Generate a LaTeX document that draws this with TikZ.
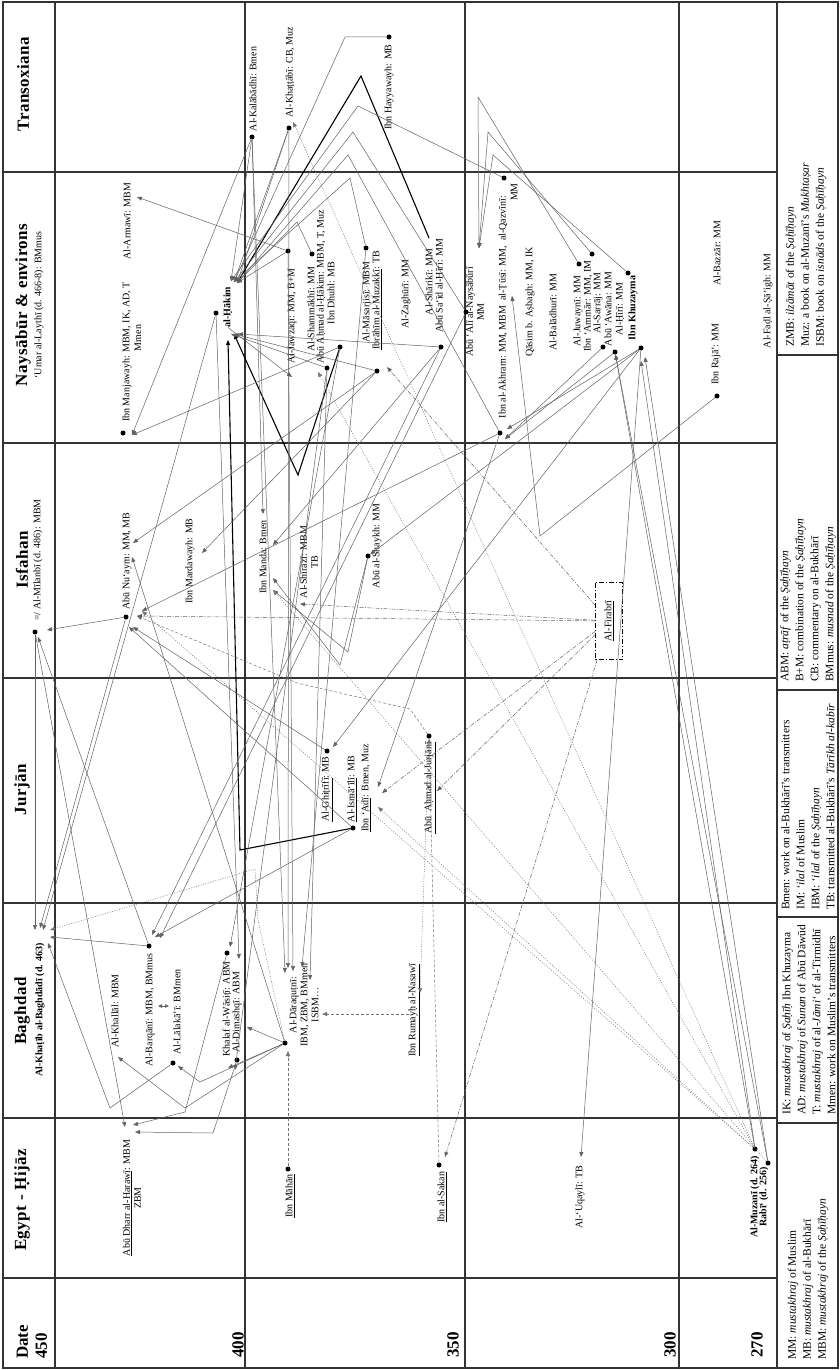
\documentclass[tikz,border=0pt]{standalone}
\usepackage{fontspec}
\setmainfont{Liberation Serif}
\usetikzlibrary{arrows.meta}
\tikzset{
  hdr/.style={rotate=90, font=\fontsize{17}{19}\selectfont\bfseries, inner sep=0pt},
  rhdr/.style={rotate=90, font=\fontsize{17}{19}\selectfont\bfseries\addfontfeature{LetterSpace=2.5}, inner sep=0pt},
  lab/.style={rotate=90, font=\fontsize{10}{11}\selectfont, inner sep=0pt, align=center},
  blab/.style={rotate=90, font=\fontsize{10}{11}\selectfont\bfseries, inner sep=0pt, align=center},
  leg/.style={rotate=90, font=\fontsize{11.5}{15}\selectfont, inner sep=0pt, align=left, anchor=west},
  dotn/.style={circle, fill=black, inner sep=0pt, minimum size=5pt},
  gridln/.style={line width=1.1pt, black!80},
  ln/.style={black!62, line width=0.5pt},
  tk/.style={black, line width=1.1pt},
  dsh/.style={black!55, line width=0.5pt, dash pattern=on 3pt off 2pt},
  dtd/.style={black!55, line width=0.5pt, dash pattern=on 1pt off 1.5pt},
  dd/.style={black!62, line width=0.5pt, dash pattern=on 4pt off 1.5pt on 1pt off 1.5pt},
  arr/.style={-{Triangle[length=5pt,width=4pt]}},
}
\begin{document}
\begin{tikzpicture}[x=1pt,y=-1pt]
\useasboundingbox (0,0) rectangle (840,1370);
% ---------------- grid
\draw[gridln] (3,2) rectangle (777,1368);
\foreach \xx in {55,245,465,679} \draw[gridln] (\xx,2) -- (\xx,1368);
\foreach \yy in {172,443,678,903,1118,1278} \draw[gridln] (3,\yy) -- (777,\yy);
\draw[gridln] (777,2) rectangle (838,1368);
\foreach \yy in {355,690,917,1123} \draw[gridln] (777,\yy) -- (838,\yy);
% ---------------- headers
\node[rhdr] (hTrans) at (23,84) {Transoxiana};
\node[rhdr] (hNays) at (23,305) {Naysābūr \& environs};
\node[lab] (hNaysSub) at (39,305) {‘Umar al-Laythī (d. 466-8): BMmus};
\node[rhdr] (hIsf) at (22,560) {Isfahan};
\node[rhdr] (hJur) at (22,790) {Jurjān};
\node[rhdr] (hBag) at (22,1011) {Baghdad};
\node[blab] (lKhatib) at (40,1010) {Al-Khaṭīb al-Baghdādī (d. 463)};
\node[rhdr] (hEgy) at (22,1200) {Egypt - Ḥijāz};
\node[hdr, align=left, anchor=west] (hDate) at (32,1359) {Date\\450};
\node[hdr] (d400) at (238,1345) {400};
\node[hdr] (d350) at (453,1345) {350};
\node[hdr] (d300) at (670,1345) {300};
\node[hdr] (d270) at (757,1345) {270};
% ---------------- legend
\node[leg] (legA) at (806,347) {ZMB: \textit{ilzāmāt} of the \textit{Ṣaḥīḥayn}\\Muz: a book on al-Muzanī’s \textit{Mukhtaṣar}\\ISBM: book on \textit{isnād}s of the \textit{Ṣaḥīḥayn}};
\node[leg] (legB) at (808,682) {ABM: \textit{aṭrāf} of the \textit{Ṣaḥīḥayn}\\B+M: combination of the \textit{Ṣaḥīḥayn}\\CB: commentary on al-Bukhārī\\BMmus: \textit{musnad} of the \textit{Ṣaḥīḥayn}};
\node[leg] (legC) at (808,910) {Bmen: work on al-Bukhārī’s transmitters\\IM: \textit{‘ilal} of Muslim\\IBM: \textit{‘ilal} of the \textit{Ṣaḥīḥayn}\\TB: transmitted al-Bukhārī’s \textit{Tārīkh al-kabīr}};
\node[leg] (legD) at (809,1115) {IK: \textit{mustakhraj} of \textit{Ṣaḥīḥ} Ibn Khuzayma\\AD: \textit{mustakhraj} of \textit{Sunan} of Abū Dāwūd\\T: \textit{mustakhraj} of al-\textit{Jāmi‘} of al-Tirmidhī\\Mmen: work on Muslim’s transmitters};
\node[leg] (legE) at (808,1360) {MM: \textit{mustakhraj} of Muslim\\MB: \textit{mustakhraj} of al-Bukhārī\\MBM: \textit{mustakhraj} of the \textit{Ṣaḥīḥayn}};
% ---------------- dots
\node[dotn] (kal) at (252,137) {};
\node[dotn] (kha) at (289,128) {};
\node[dotn] (hay) at (389,37) {};
\node[dotn] (jaw) at (288,251) {};
\node[dotn] (sham) at (312,254) {};
\node[dotn] (aah) at (327,368) {};
\node[dotn] (dhuhl) at (340,347) {};
\node[dotn] (mas) at (366,248) {};
\node[dotn] (muzak) at (377,371) {};
\node[dotn] (hiri1) at (441,347) {};
\node[dotn] (abuali) at (466,312) {};
\node[dotn] (akh) at (500,433) {};
\node[dotn] (qaz) at (504,178) {};
\node[dotn] (juw) at (579,264) {};
\node[dotn] (ammar) at (592,254) {};
\node[dotn] (sarraj) at (603,347) {};
\node[dotn] (awana) at (615,352) {};
\node[dotn] (hiri2) at (628,273) {};
\node[dotn] (khuz) at (641,348) {};
\node[dotn] (raja) at (717,396) {};
\node[dotn] (manj) at (123,433) {};
\node[dotn] (hakim) at (216,313) {};
\node[dotn] (milanbi) at (35,632) {};
\node[dotn] (nuaym) at (126,617) {};
\node[dotn] (shaykh) at (368,556) {};
\node[dotn] (ghit) at (327,751) {};
\node[dotn] (ismaili) at (353,828) {};
\node[dotn] (jurjani) at (429,736) {};
\node[dotn] (dar) at (285,1043) {};
\node[dotn] (barq) at (149,946) {};
\node[dotn] (lalak) at (173,1063) {};
\node[dotn] (wasiti) at (227,953) {};
\node[dotn] (dimashqi) at (237,1060) {};
\node[dotn] (mahan) at (288,1169) {};
\node[dotn] (sakan) at (439,1165) {};
\node[dotn] (muzani) at (755,1149) {};
\node[dotn] (rabi) at (768,1163) {};
% ---------------- labels
\node[lab] (lKal) at (253,89) {Al-Kalābādhī: Bmen};
\node[lab] (lKha) at (290,72) {Al-Khaṭṭābī: CB, Muz};
\node[lab] (lHay) at (389,87) {Ibn Hayyawayh: MB};
\node[lab] (lManj) at (127,352) {Ibn Manjawayh: MBM, IK, AD, T};
\node[lab] (lArm) at (127,221) {Al-Armawī: MBM};
\node[lab] (lMmen) at (138,338) {Mmen};
\node[blab] (lHakim) at (228,307) {al-Ḥākim};
\node[lab] (lJaw) at (292,316) {Al-Jawzaqī: MM, B+M};
\node[lab] (lSham) at (311,309) {Al-Shammākhī: MM};
\node[lab] (lAah) at (321,287) {Abū Aḥmad al-Ḥākim: MBM, T, Muz};
\node[lab] (lDhuhl) at (331,293) {Ibn Dhuhl: MB};
\node[lab] (lMas) at (367,302) {Al-Māsarjisī: MBM};
\node[lab] (lMuzak) at (377,300) {\underline{Ibrāhīm al-Muzakkī}: TB};
\node[lab] (lZag) at (406,294) {Al-Zaghūrī: MM};
\node[lab] (lShar) at (429,282) {Al-Shārikī: MM};
\node[lab] (lHiri1) at (440,286) {Abū Sa‘īd al-Ḥīrī: MM};
\node[lab] (lAbuali) at (475,312) {Abū ‘Alī al-Naysābūrī\\MM};
\node[lab] (lAkh) at (503,307) {Ibn al-Akhram: MM, MBM\ \ al-Ṭūsī: MM,\ \ al-Qazvīnī:};
\node[lab] (lQazMM) at (514,192) {MM};
\node[lab] (lQasim) at (530,302) {Qāsim b. Aṣbagh: MM, IK};
\node[lab] (lBal) at (553,312) {Al-Balādhurī: MM};
\node[lab] (lJuw) at (578,311) {Al-Juwaynī: MM};
\node[lab] (lAmmar) at (588,306) {Ibn ‘Ammār: MM, IM};
\node[lab] (lSarraj) at (598,303) {Al-Sarrāj: MM};
\node[lab] (lAwana) at (608,309) {Abū ‘Awāna: MM};
\node[lab] (lHiri2) at (620,309) {Al-Ḥīrī: MM};
\node[blab] (lKhuz) at (633,308) {Ibn Khuzayma};
\node[lab] (lRaja) at (716,354) {Ibn Rajā’: MM};
\node[lab] (lBazzar) at (717,253) {Al-Bazzār: MM};
\node[lab] (lFadl) at (768,301) {Al-Faḍl al-Ṣā’igh: MM};
\node[lab] (lMil) at (38,560) {=/ Al-Mīlanbī (d. 486): MBM};
\node[lab] (lNuaym) at (127,561) {Abū Nu‘aym: MM, MB};
\node[lab] (lMard) at (190,561) {Ibn Mardawayh: MB};
\node[lab] (lManda) at (263,557) {Ibn Manda: Bmen};
\node[lab] (lShir) at (309,562) {Al-Shīrāzī: MBM\\TB};
\node[lab] (lShaykh) at (377,546) {Abū al-Shaykh: MM};
\node[lab] (lGhit) at (327,789) {\underline{Al-Ghiṭrīfī}: MB};
\node[lab] (lIsm) at (352,789) {\underline{Al-Ismā‘īlī}: MB};
\node[lab] (lAdi) at (366,788) {\underline{Ibn ‘Adī}: Bmen, Muz};
\node[lab] (lJurj) at (430,788) {\underline{Abū\ \ Aḥmad al-Jurjānī}};
\node[lab, draw=black, line width=0.7pt, dash pattern=on 5pt off 2pt on 1pt off 2pt, minimum width=77pt, minimum height=27pt] (firabri) at (609,621) {\underline{Al-Firabrī}};
\node[lab] (lKhallal) at (115,1011) {Al-Khallāl: MBM};
\node[lab] (lBarq) at (150,1010) {Al-Barqānī: MBM, BMmus};
\node[lab] (lLalak) at (177,1012) {Al-Lālakā’ī: BMmen};
\node[lab] (lWas) at (227,1009) {Khalaf al-Wāsiṭī: ABM};
\node[lab] (lDim) at (237,1012) {Al-Dimashqī: ABM};
\node[lab] (lDar) at (304,1005) {Al-Dāraquṭnī:\\IBM, ZBM, BMmen\\ISBM…};
\node[lab] (lRum) at (414,1010) {\underline{Ibn Rumayḥ al-Nasawī}};
\node[lab] (lDharr) at (132,1198) {\underline{Abū Dharr al-Harawī}: MBM\\ZBM};
\node[lab] (lMahan) at (290,1196) {\underline{Ibn Māhān}};
\node[lab] (lSakan) at (442,1197) {\underline{Ibn al-Sakan}};
\node[lab] (lUqayli) at (580,1197) {Al-‘Uqaylī: TB};
\node[blab] (lMuzani) at (755,1197) {Al-Muzanī (d. 264)};
\node[blab] (lRabi) at (764,1197) {Rabī‘ (d. 256)};
% ---------------- arrow targets
\coordinate (hakimT1) at (231,281); \coordinate (hakimT2) at (234,282); \coordinate (hakimT3) at (237,283);
\coordinate (hakimB1) at (228,340); \coordinate (hakimB2) at (231,334); \coordinate (hakimB3) at (234,334); \coordinate (hakimB4) at (238,334);
\coordinate (sharE) at (429,238); \coordinate (armA) at (137,197); \coordinate (jawS) at (292,377);
\coordinate (abualiA) at (479,248); \coordinate (akhA1) at (507,429); \coordinate (akhA2) at (505,439);
\coordinate (khuzA1) at (641,361); \coordinate (khuzA2) at (645,357); \coordinate (uqayliA) at (581,1157);
\coordinate (tusiA) at (512,296); \coordinate (milA1) at (47,630); \coordinate (milA2) at (38,637);
\coordinate (khatA1) at (35,930); \coordinate (khatA2) at (40,928); \coordinate (khatA3) at (43,930);
\coordinate (khatA4) at (50,930); \coordinate (khatA5) at (50,937); \coordinate (khatA6) at (48,943);
\coordinate (khallalA) at (118,1057); \coordinate (dimA) at (247,1027); \coordinate (wasA1) at (228,1068);
\coordinate (wasA2) at (235,1070); \coordinate (wasT) at (230,947); \coordinate (dimT) at (239,959);
\coordinate (lalA) at (178,1066); \coordinate (barqA1) at (152,935); \coordinate (barqA2) at (155,937);
\coordinate (barqA3) at (160,938); \coordinate (darA1) at (285,973); \coordinate (darA2) at (288,968);
\coordinate (darA3) at (293,971); \coordinate (darA4) at (302,967); \coordinate (darA5) at (310,980);
\coordinate (darISBM) at (322,1014); \coordinate (darB) at (288,1051); \coordinate (dharrA1) at (125,1127);
\coordinate (dharrA2) at (133,1125); \coordinate (dharrA3) at (135,1132); \coordinate (sakanA) at (445,1157);
\coordinate (jurjA) at (437,791); \coordinate (adiA1) at (378,787); \coordinate (adiA2) at (382,793);
\coordinate (adiA3) at (378,807); \coordinate (rumA) at (420,993); \coordinate (rumL) at (409,1014);
\coordinate (khaA) at (293,122); \coordinate (nuaymA1) at (133,543); \coordinate (nuaymA2) at (132,557);
\coordinate (nuaymA3) at (142,611); \coordinate (nuaymA4) at (137,616); \coordinate (nuaymA5) at (129,627);
\coordinate (nuaymA6) at (133,627); \coordinate (mardA) at (202,553); \coordinate (mandaT) at (263,514);
\coordinate (mandaA2) at (273,545); \coordinate (mandaA3) at (273,578); \coordinate (mandaA4) at (273,590);
\coordinate (ghitA) at (333,747); \coordinate (manjA) at (132,435); \coordinate (muzakA) at (387,367);
\coordinate (aahS) at (318,372); \coordinate (shirA) at (300,604);
% ---------------- thick connectors
\draw[tk,arr] (sharE) -- (361,76) -- (hakimT3);
\draw[tk,arr] (ismaili) -- (240,850) -- (hakimB1);
\draw[tk,arr] (dhuhl) -- (298,475) -- (hakimB3);
% ---------------- thin connectors (Naysabur)
\draw[ln,arr] (hay) -- (345,37) -- (hakimT2);
\draw[ln,arr] (kal) -- (hakimT1);
\draw[ln,arr] (kha) -- (hakimT2);
\draw[ln,arr] (kha) -- (hakimT3);
\draw[ln,arr] (jaw) -- (hakimT3);
\draw[ln,arr] (jaw) -- (armA);
\draw[ln,arr] (sham) -- (297,222) -- (hakimT3);
\draw[ln,arr] (mas) -- (350,178) -- (hakimT2);
\draw[ln,arr] (qaz) -- (358,106) -- (hakimT1);
\draw[ln,arr] (abuali) -- (353,132) -- (hakimT2);
\draw[ln,arr] (akh) -- (348,155) -- (hakimT3);
\draw[ln,arr] (juw) -- (478,97) -- (abualiA);
\draw[ln,arr] (ammar) -- (488,132) -- (abualiA);
\draw[ln,arr] (hiri2) -- (493,155) -- (abualiA);
\draw[ln,arr] (aah) -- (hakimB2);
\draw[ln,arr] (muzak) -- (hakimB3);
\draw[ln,arr] (hiri1) -- (hakimB4);
\draw[ln,arr] (lHakim.west) -- (jawS);
\draw[ln,arr] (kal) -- (manjA);
% ---------------- long lines to Isfahan / Baghdad
\draw[ln,arr] (kal) -- (darA1);
\draw[ln,arr] (kal) -- (mandaT);
\draw[ln,arr] (kha) -- (darA2);
\draw[ln,arr] (jaw) -- (darA3);
\draw[ln,arr] (mas) -- (darA4);
\draw[ln,arr] (aah) -- (darA5);
\draw[ln,arr] (dhuhl) -- (wasT);
\draw[ln,arr] (hakim) -- (dimT);
\draw[ln,arr] (hakim) -- (khatA3);
\draw[ln,arr] (milanbi) -- (khatA1);
\draw[ln,arr] (nuaym) -- (khatA2);
\draw[ln,arr] (nuaym) -- (milA1);
\draw[ln,arr] (barq) -- (milA2);
\draw[ln,arr] (barq) -- (khatA5);
\draw[ln,arr] (lalak) -- (110,1108) -- (khatA6);
\draw[ln,arr] (dar) -- (185,1108) -- (khallalA);
\draw[ln,arr] (dar) -- (dimA);
\draw[ln,arr] (dar) -- (wasA1);
\draw[ln,arr] (dar) -- (200,1082) -- (lalA);
\draw[ln,arr] (dimashqi) -- (213,1133) -- (dharrA3);
\draw[ln,arr] (wasiti) -- (185,1112) -- (dharrA2);
\draw[ln,arr] (milanbi) -- (dharrA1);
\draw[ln,arr] (muzak) -- (nuaymA1);
\draw[ln,arr] (muzak) -- (mardA);
\draw[ln,arr] (hiri1) -- (mandaA2);
\draw[ln,arr] (akh) -- (nuaymA3);
\draw[ln,arr] (akh) -- (adiA1);
\draw[ln,arr] (abuali) -- (barqA3);
\draw[ln,arr] (hiri1) -- (barqA1);
\draw[ln,arr] (aah) -- (wasA2);
\draw[ln,arr] (dhuhl) -- (manjA);
\draw[ln,arr] (ismaili) -- (barqA2);
\draw[ln,arr] (ismaili) -- (nuaymA5);
\draw[ln,arr] (ghit) -- (nuaymA6);
\draw[ln,arr] (dar) -- (nuaymA2);
\draw[ln,arr] (shaykh) -- (340,665) -- (mandaA3);
\draw[ln,arr] (shaykh) -- (348,652) -- (mandaA4);
% ---------------- Khuzayma, Muzani
\draw[ln,arr] (muzani) -- (khuzA1);
\draw[ln,arr] (rabi) -- (khuzA2);
\draw[ln,arr] (muzani) -- (awana);
\draw[ln,arr] (rabi) -- (awana);
\draw[ln,arr] (khuz) -- (uqayliA);
\draw[ln,arr] (khuz) -- (akhA1);
\draw[ln,arr] (awana) -- (akhA2);
\draw[ln,arr] (sarraj) -- (akhA2);
\draw[ln,arr] (khuz) -- (shaykh);
\draw[ln,arr] (khuz) -- (ghitA);
\draw[ln,arr] (raja) -- (540,536) -- (tusiA);
% ---------------- dotted / dashed
\draw[dtd,arr] (muzani) -- (khaA);
\draw[dtd,arr] (muzani) -- (aahS);
\draw[dtd,arr] (muzani) -- (adiA3);
\draw[dtd,arr] (muzani) -- (nuaymA3);
\draw[dtd,arr] (rabi) -- (mandaA4);
\draw[dtd,arr] (dar) -- (258,920) -- (255,869) -- (khatA4);
\draw[dsh,arr] (mahan) -- (darB);
\draw[dsh,arr] (rumL) -- (darISBM);
\draw[dsh,arr] (sakan) -- (jurjani);
\draw[dsh,arr] (jurjani) -- (410,709) -- (297,683) -- (nuaymA4);
\draw[dtd,arr] (jurjani) -- (rumA);
\draw[dd,arr] (firabri) -- (sakanA);
\draw[dd,arr] (firabri) -- (jurjA);
\draw[dd,arr] (firabri) -- (adiA2);
\draw[dd,arr] (firabri) -- (muzakA);
\draw[dd,arr] (firabri) -- (shirA);
\draw[dd,arr] (firabri) -- (nuaymA4);
\draw[ln,{Triangle[length=4pt,width=3.5pt]}-{Triangle[length=4pt,width=3.5pt]}] (158,1006) -- (169,1006);
\end{tikzpicture}
\end{document}
